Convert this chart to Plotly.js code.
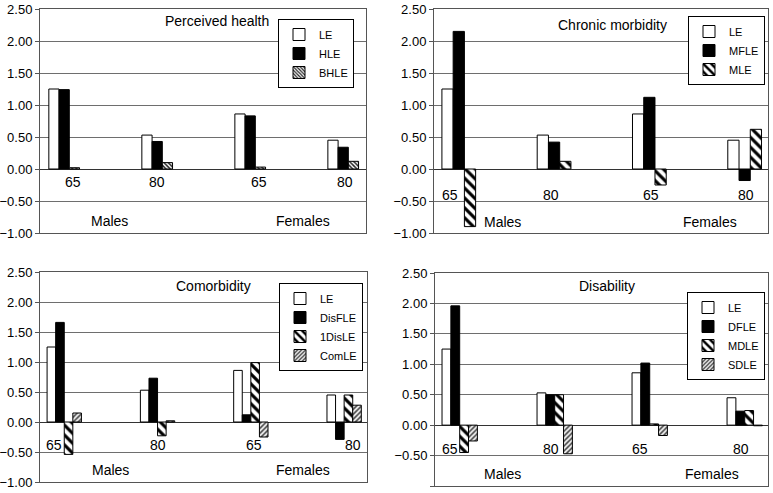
<!DOCTYPE html>
<html><head><meta charset="utf-8">
<script src="https://cdn.plot.ly/plotly-3.0.1.min.js"></script>
<style>html,body{margin:0;padding:0;background:#fff;} #chart{width:773px;height:493px;}</style>
</head><body><div id="chart"></div>
<script>
// ---- data ----
const ageLabels = ['65', '80', '65', '80'];
const sexLabels = ['Males', 'Females'];
const panelTitles = ['Perceived health', 'Chronic morbidity', 'Comorbidity', 'Disability'];

const leValues = [1.25, 0.53, 0.86, 0.45];

// Perceived health
const phNames = ['LE', 'HLE', 'BHLE'];
const phHLE  = [1.24, 0.43, 0.83, 0.34];
const phBHLE = [0.02, 0.10, 0.03, 0.12];

// Chronic morbidity
const cmNames = ['LE', 'MFLE', 'MLE'];
const cmMFLE = [2.15, 0.42, 1.12, -0.18];
const cmMLE  = [-0.90, 0.12, -0.25, 0.62];

// Comorbidity
const coNames = ['LE', 'DisFLE', '1DisLE', 'ComLE'];
const coDisFLE = [1.66, 0.73, 0.12, -0.29];
const co1DisLE = [-0.54, -0.23, 0.99, 0.45];
const coComLE  = [0.15, 0.02, -0.25, 0.28];

// Disability
const diNames = ['LE', 'DFLE', 'MDLE', 'SDLE'];
const diDFLE = [1.96, 0.50, 1.02, 0.23];
const diMDLE = [-0.45, 0.50, 0.02, 0.24];
const diSDLE = [-0.26, -0.47, -0.17, -0.01];

// ---- styles ----
const FONT = 'Liberation Sans, Arial, sans-serif';
const outline = {color: 'black', width: 1};
const sLE = {color: 'white', line: outline};
const sSolid = {color: 'black', line: outline};
const sFine = {color: 'white', line: outline, pattern: {shape: '\\', size: 3, solidity: 0.5, fgcolor: '#222', bgcolor: 'white'}};
const sStripe = {color: 'white', line: outline, pattern: {shape: '\\', size: 7, solidity: 0.45, fgcolor: 'black', bgcolor: 'white'}};
const sFwd = {color: 'white', line: outline, pattern: {shape: '/', size: 3.5, solidity: 0.45, fgcolor: '#333', bgcolor: 'white'}};

const W = 773, H = 493;
const panels = [
  {names: phNames, series: [leValues, phHLE, phBHLE], styles: [sLE, sSolid, sFine],
   px: [40, 366], py: [9, 233], bw: 0.11, ageY: -0.2, ageDx: [0.09, 0, 0.09, 0.02],
   sexX: [0.49, 2.57], sexY: -0.82, titleX: 1.645, titleY: 2.32, leg: [354, 19]},
  {names: cmNames, series: [leValues, cmMFLE, cmMLE], styles: [sLE, sSolid, sStripe],
   px: [434, 768], py: [9, 233], bw: 0.118, ageY: -0.4, ageDx: [-0.09, -0.03, 0.02, 0.01],
   sexX: [0.46, 2.64], sexY: -0.83, titleX: 1.61, titleY: 2.245, leg: [765, 16]},
  {names: coNames, series: [leValues, coDisFLE, co1DisLE, coComLE], styles: [sLE, sSolid, sStripe, sFwd],
   px: [40, 367], py: [272, 482], bw: 0.092, ageY: -0.39, ageDx: [-0.11, 0, 0.03, 0.09],
   sexX: [0.50, 2.56], sexY: -0.80, titleX: 1.60, titleY: 2.27, leg: [363, 283]},
  {names: diNames, series: [leValues, diDFLE, diMDLE, diSDLE], styles: [sLE, sSolid, sStripe, sFwd],
   px: [435, 768], py: [273, 486], bw: 0.093, ageY: -0.385, ageDx: [-0.1, -0.04, -0.1, -0.04],
   sexX: [0.45, 2.66], sexY: -0.80, titleX: 1.55, titleY: 2.28, leg: [765, 292]}
];

const xIdx = ageLabels.map((_, i) => i);
const traces = [];
const layout = {
  width: W, height: H, margin: {l: 0, r: 0, t: 0, b: 0},
  paper_bgcolor: 'white', plot_bgcolor: 'white',
  barmode: 'overlay', showlegend: true,
  font: {family: FONT, color: 'black', size: 13},
  annotations: []
};

panels.forEach((p, k) => {
  const sfx = k === 0 ? '' : String(k + 1);
  const xa = 'x' + sfx, ya = 'y' + sfx;
  const legName = 'legend' + sfx;
  const n = p.series.length;
  p.series.forEach((vals, j) => {
    traces.push({
      type: 'bar', x: xIdx, y: vals, name: p.names[j],
      xaxis: xa, yaxis: ya, legend: legName,
      width: p.bw, offset: (j - n / 2) * p.bw,
      marker: p.styles[j], hoverinfo: 'skip'
    });
  });
  layout['xaxis' + sfx] = {
    domain: [p.px[0] / W, p.px[1] / W], anchor: ya,
    range: [-0.26, 3.245], showgrid: false, zeroline: false,
    showticklabels: false, ticks: '', showline: true, mirror: true,
    linecolor: '#555', linewidth: 1, fixedrange: true
  };
  layout['yaxis' + sfx] = {
    domain: [1 - p.py[1] / H, 1 - p.py[0] / H], anchor: xa,
    range: [-1, 2.5], dtick: 0.5, tick0: 0, tickformat: '.2f',
    showgrid: true, gridcolor: '#6e6e6e', gridwidth: 1,
    zeroline: true, zerolinecolor: '#333', zerolinewidth: 1,
    showline: true, mirror: true, linecolor: '#555', linewidth: 1,
    ticks: 'outside', ticklen: 4, tickcolor: '#555',
    tickfont: {family: FONT, size: 13, color: 'black'}, fixedrange: true
  };
  layout[legName] = {
    x: p.leg[0] / W, xanchor: 'right', y: 1 - p.leg[1] / H, yanchor: 'top',
    bgcolor: 'white', bordercolor: 'black', borderwidth: 1,
    font: {family: FONT, size: 11, color: 'black'},
    tracegroupgap: 0, itemwidth: 30, traceorder: 'normal'
  };
  layout.annotations.push({
    xref: xa, yref: ya, x: p.titleX, y: p.titleY, text: panelTitles[k],
    showarrow: false, font: {family: FONT, size: 14, color: 'black'}
  });
  ageLabels.forEach((lab, i) => {
    layout.annotations.push({
      xref: xa, yref: ya, x: i + p.ageDx[i], y: p.ageY, text: lab,
      showarrow: false, font: {family: FONT, size: 14, color: 'black'}
    });
  });
  sexLabels.forEach((lab, i) => {
    layout.annotations.push({
      xref: xa, yref: ya, x: p.sexX[i], y: p.sexY, text: lab,
      showarrow: false, font: {family: FONT, size: 14, color: 'black'}
    });
  });
});

Plotly.newPlot('chart', traces, layout, {staticPlot: true, displayModeBar: false});
</script>
</body></html>
